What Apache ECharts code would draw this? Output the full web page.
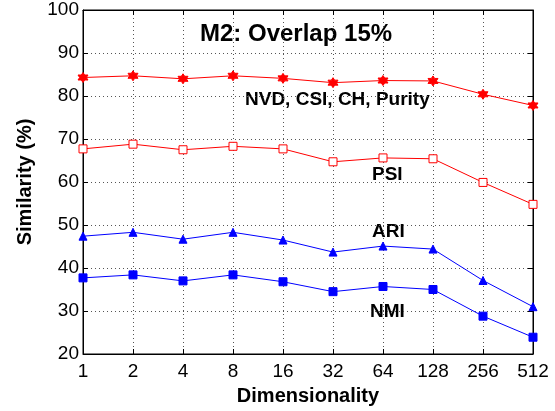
<!DOCTYPE html>
<html>
<head>
<meta charset="utf-8">
<script src="https://cdn.jsdelivr.net/npm/echarts@6/dist/echarts.min.js"></script>
<style>
  html, body { margin: 0; padding: 0; background: #fff; }
  #chart { width: 555px; height: 411px; }
</style>
</head>
<body>
<div id="chart"></div>
<script>
// dimensionality categories
var dims = ['1', '2', '4', '8', '16', '32', '64', '128', '256', '512'];

// similarity (%) per measure
var nvd = [84.3, 84.7, 84.0, 84.7, 84.1, 83.1, 83.6, 83.5, 80.4, 77.8];
var psi = [67.7, 68.8, 67.5, 68.3, 67.7, 64.7, 65.6, 65.4, 59.9, 54.8];
var ari = [47.4, 48.3, 46.7, 48.3, 46.5, 43.7, 45.1, 44.4, 37.1, 31.0];
var nmi = [37.7, 38.4, 37.0, 38.4, 36.8, 34.5, 35.7, 35.0, 28.8, 23.9];

var yTicks = [20, 30, 40, 50, 60, 70, 80, 90, 100];

var FONT = 'Liberation Sans, Arial, sans-serif';
var star = 'path://M0,-10 L2.9,-5 L8.66,-5 L5.8,0 L8.66,5 L2.9,5 L0,10 L-2.9,5 L-8.66,5 L-5.8,0 L-8.66,-5 L-2.9,-5 Z';

var chart = echarts.init(document.getElementById('chart'));

function line(name, data, color, symbol, size, filled) {
    return {
        name: name,
        type: 'line',
        data: data,
        symbol: symbol,
        symbolSize: size,
        showAllSymbol: true,
        lineStyle: { color: color, width: 1 },
        itemStyle: {
            color: filled ? color : '#fff',
            borderColor: color,
            borderWidth: 1
        },
        emphasis: { disabled: true },
        animation: false,
        z: 3
    };
}

var gridLine = { show: true, lineStyle: { color: '#555', type: [1, 3], width: 1 } };

var option = {
    backgroundColor: '#fff',
    grid: { left: 83, right: 22, top: 10, bottom: 54, show: true, borderColor: '#000', borderWidth: 1 },
    xAxis: [{
        type: 'category',
        data: dims,
        boundaryGap: false,
        name: 'Dimensionality',
        nameLocation: 'middle',
        nameGap: 32,
        nameTextStyle: { fontFamily: FONT, fontSize: 20, fontWeight: 'bold', color: '#000' },
        axisLine: { lineStyle: { color: '#000' } },
        axisTick: { inside: true, length: 5, lineStyle: { color: '#000' } },
        axisLabel: { fontFamily: FONT, fontSize: 19, color: '#000', margin: 8, interval: 0 },
        splitLine: gridLine
    }, {
        type: 'category',
        data: dims,
        boundaryGap: false,
        position: 'top',
        axisLine: { lineStyle: { color: '#000' } },
        axisTick: { inside: true, length: 5, lineStyle: { color: '#000' } },
        axisLabel: { show: false },
        splitLine: { show: false }
    }],
    yAxis: [{
        type: 'value',
        min: 20,
        max: 100,
        interval: 10,
        name: 'Similarity (%)',
        nameLocation: 'middle',
        nameGap: 48,
        nameTextStyle: { fontFamily: FONT, fontSize: 20, fontWeight: 'bold', color: '#000' },
        axisLine: { show: true, lineStyle: { color: '#000' } },
        axisTick: { show: true, inside: true, length: 5, lineStyle: { color: '#000' } },
        axisLabel: {
            fontFamily: FONT, fontSize: 19, color: '#000', margin: 4,
            formatter: function (v) { return yTicks.indexOf(v) >= 0 ? String(v) : ''; }
        },
        splitLine: gridLine
    }, {
        type: 'value',
        min: 20,
        max: 100,
        interval: 10,
        position: 'right',
        axisLine: { show: true, lineStyle: { color: '#000' } },
        axisTick: { show: true, inside: true, length: 5, lineStyle: { color: '#000' } },
        axisLabel: { show: false },
        splitLine: { show: false }
    }],
    series: [
        line('NVD, CSI, CH, Purity', nvd, '#ff0000', star, 10, true),
        line('PSI', psi, '#ff0000', 'rect', 8, false),
        line('ARI', ari, '#0000ff', 'triangle', 8, true),
        line('NMI', nmi, '#0000ff', 'rect', 8, true)
    ],
    graphic: [
        { type: 'text', left: 200, top: 22, style: { text: 'M2: Overlap 15%', font: 'bold 24px ' + FONT, fill: '#000' } },
        { type: 'text', left: 245, top: 90, style: { text: 'NVD, CSI, CH, Purity', font: 'bold 19px ' + FONT, fill: '#000' } },
        { type: 'text', left: 372, top: 165, style: { text: 'PSI', font: 'bold 19px ' + FONT, fill: '#000' } },
        { type: 'text', left: 372, top: 222, style: { text: 'ARI', font: 'bold 19px ' + FONT, fill: '#000' } },
        { type: 'text', left: 370, top: 302, style: { text: 'NMI', font: 'bold 19px ' + FONT, fill: '#000' } }
    ]
};

chart.setOption(option);
</script>
</body>
</html>
